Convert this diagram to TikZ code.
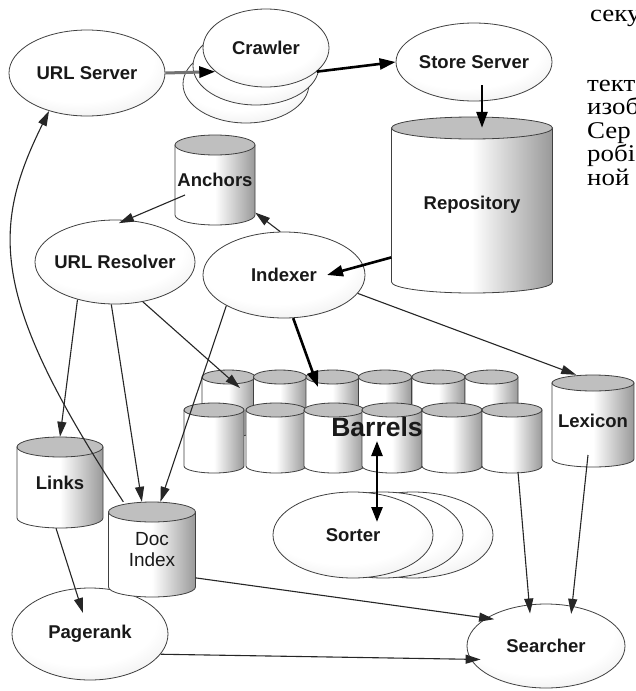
\documentclass[tikz,border=0pt]{standalone}
\usepackage{fontspec}
\setmainfont{Liberation Sans}
\newfontfamily\rusfont[FakeStretch=1.12]{Liberation Serif}
\usetikzlibrary{shapes.geometric,arrows.meta,calc}
\colorlet{shA}{gray!22}
\colorlet{shB}{gray!55}
\colorlet{shC}{gray!78}
\pgfdeclareradialshading{myball}{\pgfpoint{-4bp}{10bp}}{color(0bp)=(white); color(24bp)=(white); color(42bp)=(shA); color(52bp)=(shB); color(62bp)=(shC); color(80bp)=(shC)}
\tikzset{
  ell/.style={ellipse, draw=black!75, line width=0.8pt, inner sep=0pt, shading=myball},
  lbl/.style={font=\fontsize{18.5}{20}\selectfont\bfseries, text=black!90, inner sep=0pt, align=center},
  lblreg/.style={font=\fontsize{19}{21}\selectfont, text=black!90, inner sep=0pt, align=center},
  cylbody/.style={draw=black!75, line width=0.8pt, left color=white, right color=gray!80, middle color=white},
  cyltop/.style={draw=black!75, line width=0.8pt, fill=gray!50},
  cylbox/.style={inner sep=0pt, rectangle},
  rustext/.style={font=\rusfont\fontsize{24}{23}\selectfont, anchor=base west, inner sep=0pt},
  thinarr/.style={draw=black!85, line width=1.1pt, -{Triangle[length=15pt,width=9pt]}},
  thickarr/.style={draw=black, line width=2.6pt, -{Triangle[length=16pt,width=11pt]}},
  grayarr/.style={draw=black!55, line width=3pt, -{Triangle[length=16pt,width=11pt,color=black]}},
  dblarr/.style={draw=black, line width=2.6pt, {Triangle[length=15pt,width=11pt]}-{Triangle[length=15pt,width=11pt]}},
}
% cx, ytop, ybottom, half width, ry
\newcommand\drawcyl[5]{%
  \path[cylbody] ({#1-#4},#2) -- ({#1-#4},#3) arc[start angle=180, end angle=0, x radius=#4, y radius=#5] -- ({#1+#4},#2) -- cycle;
  \path[cyltop] (#1,#2) ellipse[x radius=#4, y radius=#5];
}
\begin{document}
\begin{tikzpicture}[x=1pt,y=-1pt]
\useasboundingbox (0,0) rectangle (636,691);
\clip (0,0) rectangle (636,691);
\fill[white] (0,0) rectangle (636,691);

% ---- Russian page text (cut at the right edge)
\node[rustext] (r1) at (590,21) {секу};
\node[rustext] (r2) at (587,91) {тект};
\node[rustext] (r3) at (587,114) {изоб};
\node[rustext] (r4) at (587,138) {Сер};
\node[rustext] (r5) at (587,161) {робі};
\node[rustext] (r6) at (587,185) {ной};

% ---- ellipses
\node[ell, minimum width=156, minimum height=86, label={[lbl]center:URL Server}] (urlsrv) at (87,73) {};
\node[ell, minimum width=126, minimum height=78] (crawler3) at (246,84) {};
\node[ell, minimum width=126, minimum height=78] (crawler2) at (256,66) {};
\node[ell, minimum width=126, minimum height=78, label={[lbl]center:Crawler}] (crawler) at (266,48) {};
\node[ell, minimum width=156, minimum height=78, label={[lbl]center:Store Server}] (storesrv) at (474,62) {};
\node[ell, minimum width=160, minimum height=84, label={[lbl]center:URL Resolver}] (urlres) at (115,262) {};
\node[ell, minimum width=162, minimum height=86, label={[lbl]center:Indexer}] (indexer) at (284,275) {};
\node[ell, minimum width=156, minimum height=92, label={[lbl]center:Pagerank}] (pagerank) at (90,634) {};
\node[ell, minimum width=158, minimum height=84, label={[lbl]center:Searcher}] (searcher) at (546,646) {};
\node[ell, minimum width=160, minimum height=86] (sorter3) at (413,535) {};
\node[ell, minimum width=160, minimum height=86] (sorter2) at (383,535) {};
\node[ell, minimum width=160, minimum height=86, label={[lbl]center:Sorter}] (sorter) at (353,535) {};

% ---- cylinders
\drawcyl{472}{128}{282}{80.5}{11}
\node[cylbox, minimum width=161, minimum height=176, label={[lbl]center:Repository}] (repo) at (472,205) {};
\drawcyl{215}{145}{215}{40}{10}
\node[cylbox, minimum width=80, minimum height=90, label={[lbl]center:Anchors}] (anchors) at (215,180) {};
\drawcyl{60}{447}{518}{43}{10}
\node[cylbox, minimum width=86, minimum height=91, label={[lbl]center:Links}] (links) at (60,482.5) {};
\drawcyl{152}{512}{587}{43.5}{10}
\node[cylbox, minimum width=87, minimum height=95, label={[lblreg]center:Doc\\Index}] (docidx) at (152,549.5) {};
\drawcyl{593}{383}{459}{41}{8}
\node[cylbox, minimum width=82, minimum height=92, label={[lbl]center:Lexicon}] (lexicon) at (593,421) {};

% ---- barrels: back row then front row
\foreach \cx in {228.5,280,332.5,385,438.5,491.5} { \drawcyl{\cx}{377}{430}{26.5}{7} }
\foreach \cx in {214,276,334,392,452,512} { \drawcyl{\cx}{410}{466}{30}{7} }
\node[cylbox, minimum width=359, minimum height=103] (barrels) at (362.5,421.5) {};
\node[font=\fontsize{26.5}{28}\selectfont\bfseries, text=black!90, inner sep=0pt] (barrelslbl) at (377,427) {Barrels};
\coordinate (barA) at (240,388);
\coordinate (barB) at (318,387);
\coordinate (barC) at (518,472);
\coordinate (barD) at (377,441);

% ---- connectors
\draw[grayarr] (urlsrv.east) -- (crawler.205);
\draw[thickarr] (crawler.-25) -- (storesrv.west);
\draw[thickarr] ([xshift=8pt,yshift=16pt]storesrv.south) -- ([xshift=10pt,yshift=-11pt]repo.north);
\draw[thickarr] (repo.213) -- ([xshift=43pt]indexer.center);
\draw[thinarr] (indexer.95) -- (anchors.-39);
\draw[thinarr, shorten >=-8pt] ([xshift=-30pt,yshift=-15pt]anchors.center) -- (urlres.75);
\draw[thickarr] (indexer.-78) -- (barB);
\draw[thinarr] (indexer.-14) -- (lexicon.110);
\draw[thinarr] (indexer.208) -- (docidx.80);
\draw[thinarr] (urlres.225) -- (links.north);
\draw[thinarr] (urlres.265) -- (docidx.102);
\draw[thinarr] (urlres.-55) -- (barA);
\draw[thinarr] (docidx.121) .. controls (-9,300) and (-10,230) .. (urlsrv.225);
\draw[thinarr] (links.265) -- ([xshift=-7pt,yshift=21pt]pagerank.center);
\draw[thinarr, shorten >=-8pt] (docidx.-33) -- (searcher.155);
\draw[thinarr, shorten >=-10pt] (pagerank.-16) -- (searcher.190);
\draw[thinarr, shorten >=-9pt] (barC) -- (searcher.112);
\draw[thinarr, shorten >=-8pt] ([xshift=-5pt,yshift=-34pt]lexicon.center) -- (searcher.57);
\draw[dblarr] (barD) -- ([xshift=24pt,yshift=13pt]sorter.center);
\end{tikzpicture}
\end{document}
